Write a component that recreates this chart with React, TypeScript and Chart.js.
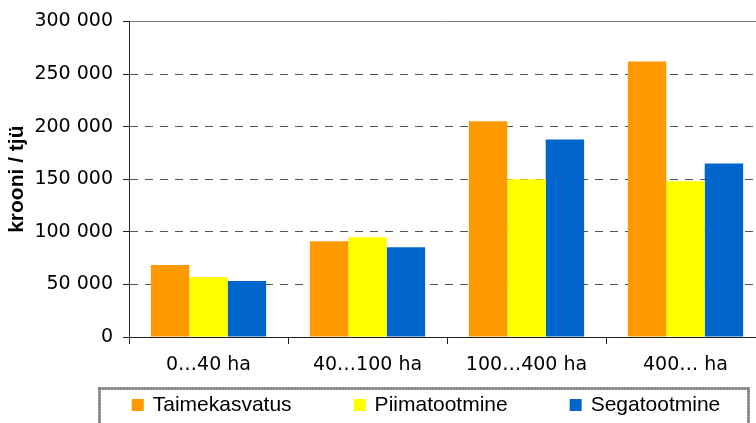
import { useEffect, useRef } from 'react';
import { Chart, registerables } from 'chart.js';

Chart.register(...registerables);

const categories = ['0…40 ha', '40…100 ha', '100…400 ha', '400… ha'];
const seriesNames = ['Taimekasvatus', 'Piimatootmine', 'Segatootmine'];
const taimekasvatus = [68400, 91100, 205100, 262000];
const piimatootmine = [57000, 94900, 150000, 148100];
const segatootmine = [53200, 85400, 187700, 164900];
const seriesColors = ['#FF9900', '#FFFF00', '#0066CC'];
const yMin = 0;
const yMax = 300000;
const yStep = 50000;
const yAxisTitle = 'krooni / tjü';

const formatThousands = (v: number) => String(v).replace(/\B(?=(\d{3})+(?!\d))/g, ' ');

const boxLegend = {
  id: 'boxLegend',
  afterDraw(chart: any) {
    const ctx = chart.ctx as CanvasRenderingContext2D;
    ctx.save();
    const frame = { left: 99.5, top: 388.5, right: 748.5, bottom: 445 };
    ctx.lineWidth = 3;
    ctx.strokeStyle = '#a0a0a0';
    ctx.strokeRect(frame.left, frame.top, frame.right - frame.left, frame.bottom - frame.top);
    ctx.setLineDash([1, 2]);
    ctx.strokeStyle = '#606060';
    ctx.lineWidth = 2;
    ctx.strokeRect(frame.left, frame.top, frame.right - frame.left, frame.bottom - frame.top);
    ctx.setLineDash([]);

    ctx.font = '21px "Liberation Sans"';
    const box = 12;
    const gapText = 9;
    const gapItem = 62;
    const items = chart.data.datasets.map((ds: any) => ({
      label: ds.label as string,
      color: ds.backgroundColor as string,
      w: ctx.measureText(ds.label).width,
    }));
    const total =
      items.reduce((s: number, it: any) => s + box + gapText + it.w, 0) + gapItem * (items.length - 1);
    let x = (frame.left + frame.right) / 2 - total / 2 + 2;
    const baseline = 410.5;
    items.forEach((it: any) => {
      ctx.fillStyle = it.color;
      ctx.fillRect(x, 399, box, box);
      ctx.fillStyle = '#000000';
      ctx.textBaseline = 'alphabetic';
      ctx.textAlign = 'left';
      ctx.fillText(it.label, x + box + gapText, baseline);
      x += box + gapText + it.w + gapItem;
    });
    ctx.restore();
  },
};

export default function App() {
  const canvasRef = useRef<HTMLCanvasElement | null>(null);

  useEffect(() => {
    document.body.style.margin = '0';
    document.body.style.overflow = 'hidden';
    const canvas = canvasRef.current;
    if (!canvas) return;
    const values = [taimekasvatus, piimatootmine, segatootmine];
    const chart = new Chart(canvas, {
      type: 'bar',
      data: {
        labels: categories,
        datasets: seriesNames.map((name, i) => ({
          label: name,
          data: values[i],
          backgroundColor: seriesColors[i],
          borderWidth: 0,
          categoryPercentage: 0.725,
          barPercentage: 1.0,
        })),
      },
      options: {
        animation: false,
        responsive: true,
        maintainAspectRatio: false,
        layout: { padding: { left: 0, right: 15, top: 21, bottom: 36 } },
        plugins: {
          legend: { display: false },
          tooltip: { enabled: false },
        },
        scales: {
          x: {
            afterFit: (scale: any) => {
              scale.height = 50;
            },
            grid: {
              offset: true,
              drawOnChartArea: false,
              drawTicks: true,
              tickLength: 7,
              tickColor: '#222222',
            },
            border: { display: true, color: '#222222', width: 1 },
            ticks: {
              color: '#000000',
              padding: 10,
              font: { family: '"DejaVu Sans"', size: 19 },
            },
          },
          y: {
            min: yMin,
            max: yMax,
            afterFit: (scale: any) => {
              scale.width = 129;
            },
            ticks: {
              stepSize: yStep,
              color: '#000000',
              padding: 10,
              font: { family: '"DejaVu Sans"', size: 19 },
              callback: (v: any) => formatThousands(Number(v)),
            },
            grid: {
              color: (c: any) => (c.tick && c.tick.value === yMax ? '#808080' : '#555555'),
              tickColor: '#222222',
              tickLength: 6,
              lineWidth: 1,
            },
            border: {
              display: true,
              color: '#222222',
              width: 1,
              dash: (c: any) => (c.tick && c.tick.value !== yMax ? [8, 7] : []),
            },
            title: {
              display: true,
              text: yAxisTitle,
              color: '#000000',
              padding: { top: 5, bottom: 0 },
              font: { family: '"Liberation Sans"', size: 21, weight: 'bold' },
            },
          },
        },
      },
      plugins: [boxLegend],
    });
    return () => chart.destroy();
  }, []);

  return (
    <div style={{ position: 'fixed', left: 0, top: 0, width: 780, height: 423 }}>
      <canvas ref={canvasRef} />
    </div>
  );
}
